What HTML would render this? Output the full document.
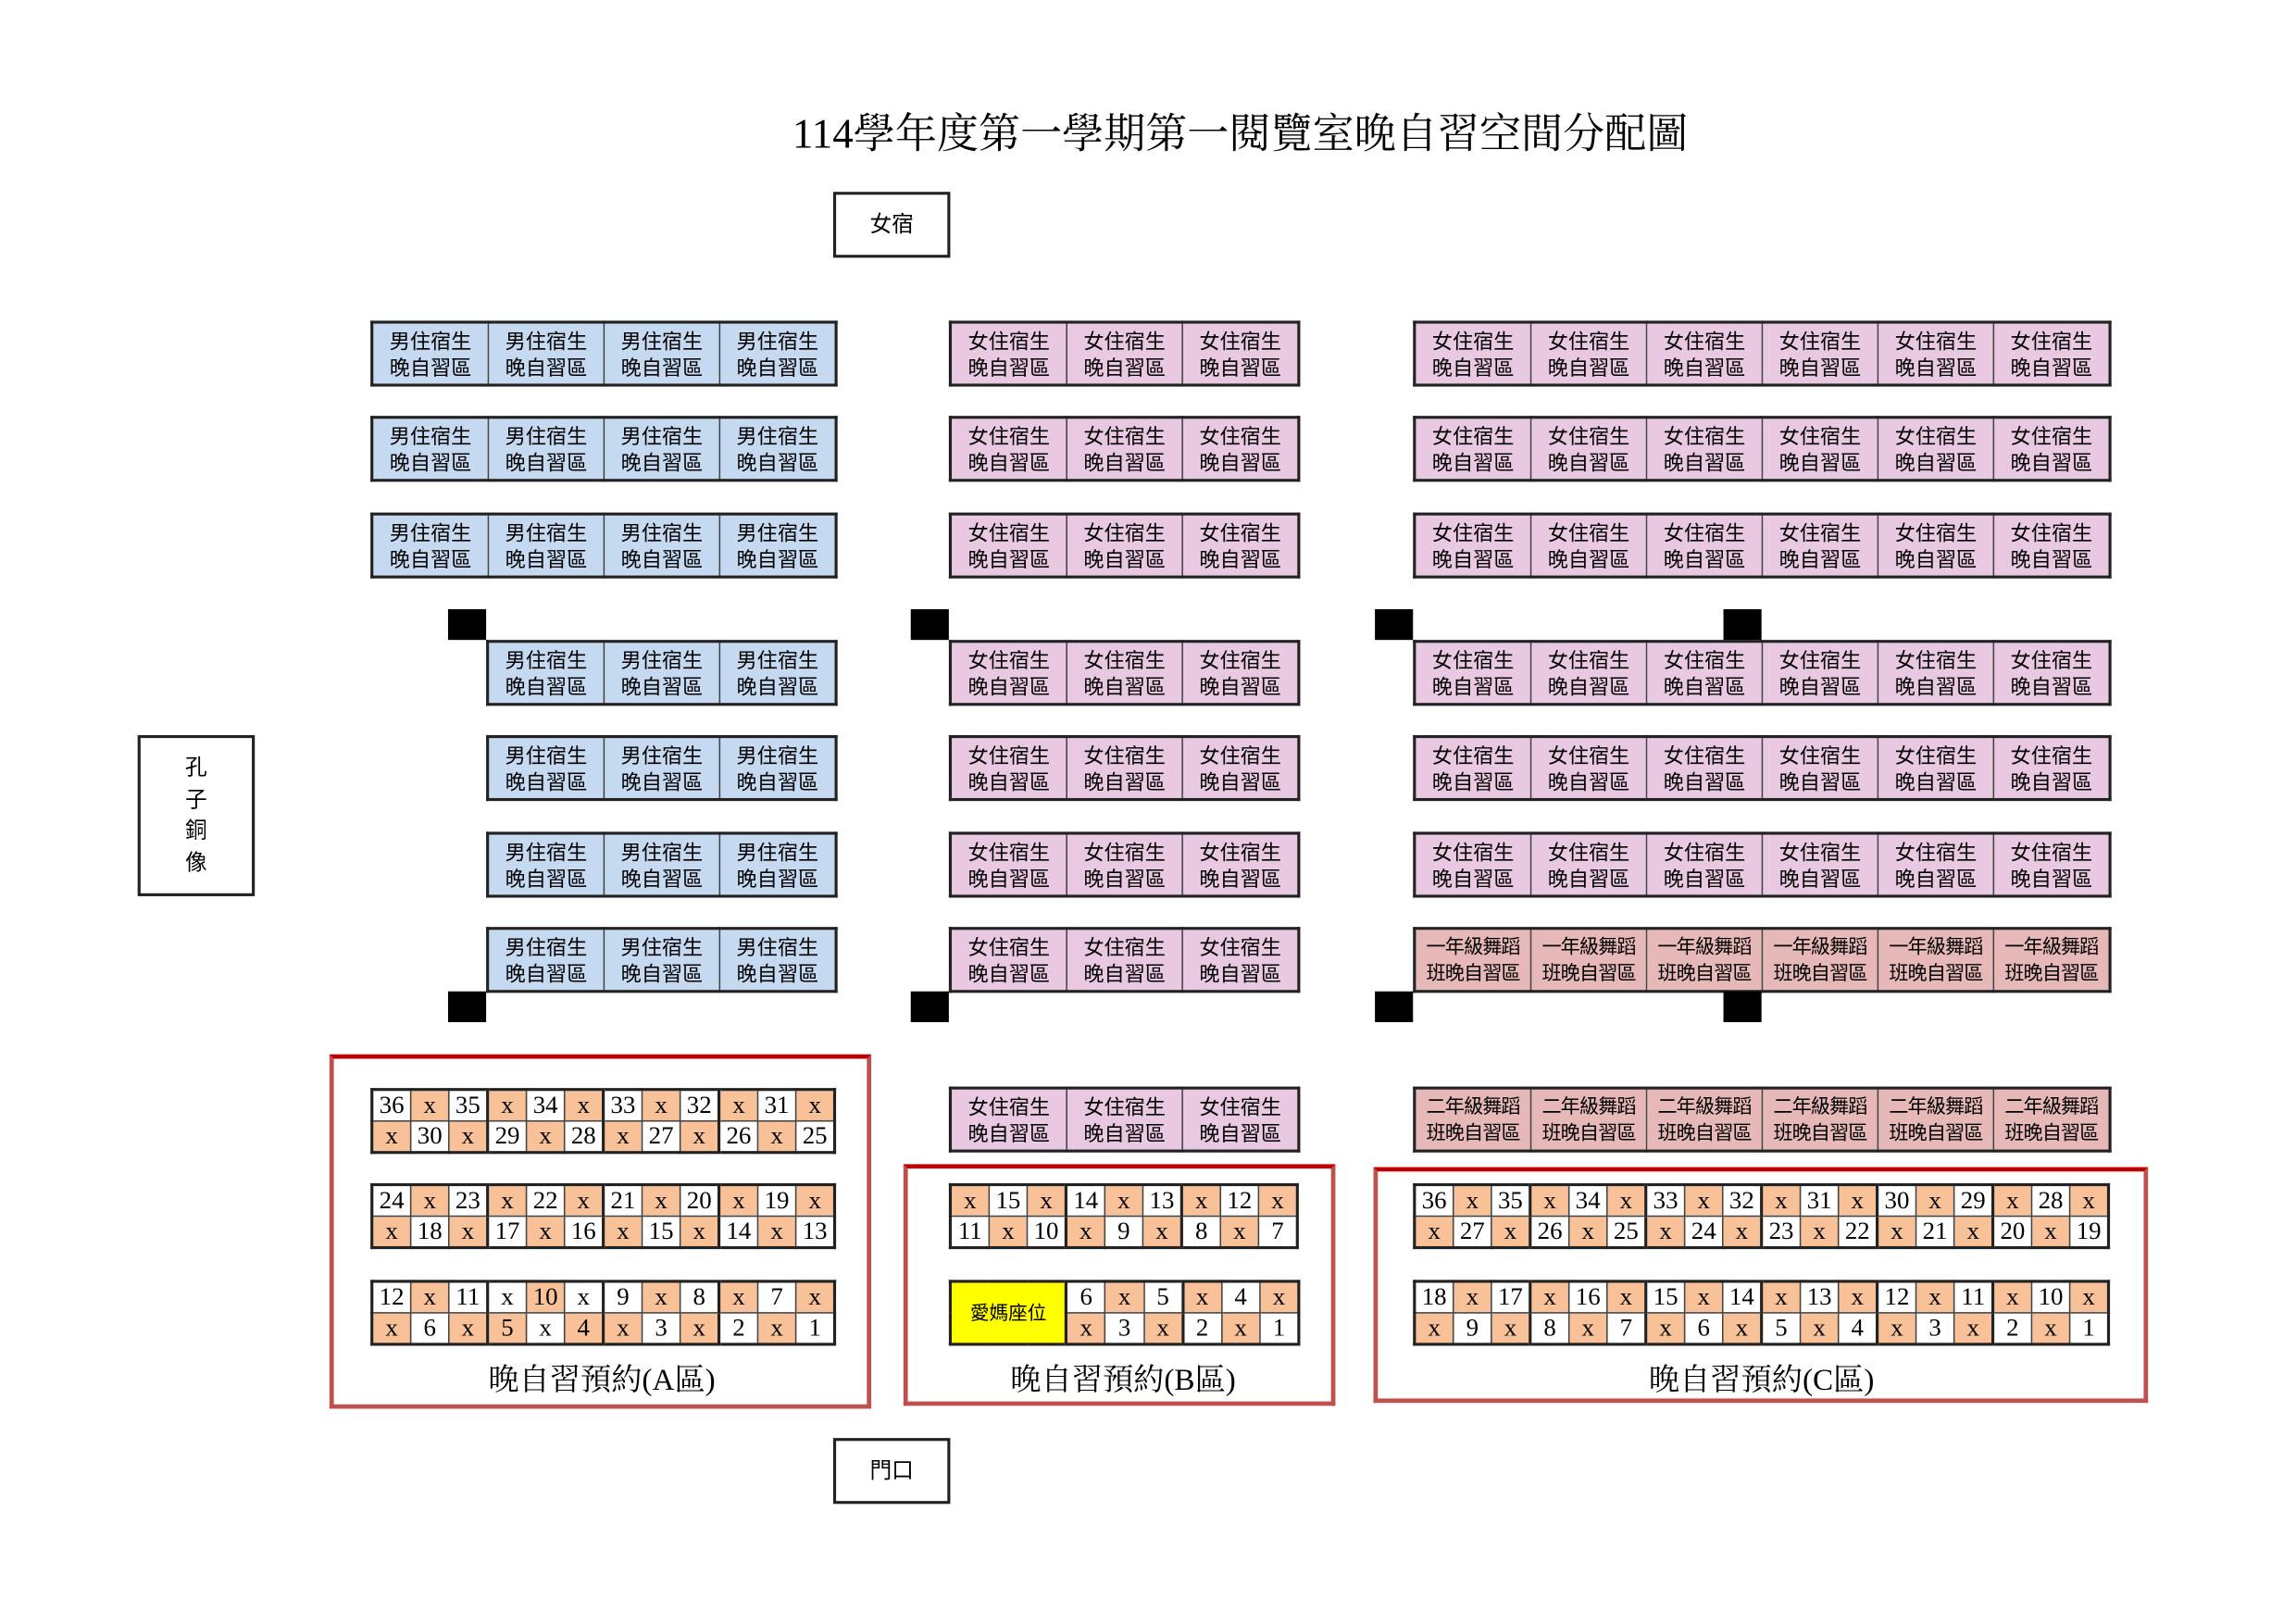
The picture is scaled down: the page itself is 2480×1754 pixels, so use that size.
<!DOCTYPE html>
<html><head><meta charset="utf-8">
<style>
html,body{margin:0;padding:0;background:#fff;width:2480px;height:1754px;overflow:hidden}
#s{position:absolute;left:0;top:0;width:1568px;height:1109px;transform:scale(1.5816);transform-origin:0 0;font-family:"Liberation Sans","Noto Sans CJK TC",sans-serif;color:#000}
.a{position:absolute}
.t{position:absolute;border-collapse:collapse;table-layout:fixed;border:2px solid #222}
.t td{border:1px solid #444;padding:0;text-align:center;vertical-align:middle;overflow:hidden;white-space:nowrap}
.x td{width:78px;height:41px;font-size:14px;line-height:18px}
.b td{background:#c5d9f1}
.p td{background:#e9c8e1}
.d td{background:#e6b8b7;font-size:13.4px;letter-spacing:-0.6px}
.q td{width:25px;height:20px;font-family:"Liberation Serif",serif;font-size:17px;line-height:20px;background:#fff}
.q td.o{background:#f8c197}
.q td.g{border-right:2px solid #222}
.box{position:absolute;border:2px solid #222;background:#fff;text-align:center;font-size:15px}
.red{position:absolute;border:3px solid #c0504d;border-top-color:#c00000}
.lab{position:absolute;font-family:"Liberation Serif","Noto Serif CJK SC",serif;font-size:21px;text-align:center;width:300px}
.k{position:absolute;background:#000;width:26px;height:21px}
</style></head><body><div id="s">
<div class="a" style="left:397px;top:73px;width:900px;text-align:center;font-family:'Liberation Serif','Noto Serif CJK SC',serif;font-size:28.5px;line-height:40px">114學年度第一學期第一閱覽室晚自習空間分配圖</div>
<div class="box" style="left:569px;top:131px;width:76px;height:41px;line-height:41px">女宿</div>
<div class="box" style="left:569px;top:982px;width:76px;height:41px;line-height:41px">門口</div>
<div class="box" style="left:94px;top:502px;width:76px;height:106px;font-size:15px;line-height:21.5px"><div style="padding-top:10px">孔<br>子<br>銅<br>像</div></div>

<table class="t x b" style="left:253px;top:219px"><tr><td>男住宿生<br>晚自習區</td><td>男住宿生<br>晚自習區</td><td>男住宿生<br>晚自習區</td><td>男住宿生<br>晚自習區</td></tr></table>
<table class="t x b" style="left:253px;top:284px"><tr><td>男住宿生<br>晚自習區</td><td>男住宿生<br>晚自習區</td><td>男住宿生<br>晚自習區</td><td>男住宿生<br>晚自習區</td></tr></table>
<table class="t x b" style="left:253px;top:350px"><tr><td>男住宿生<br>晚自習區</td><td>男住宿生<br>晚自習區</td><td>男住宿生<br>晚自習區</td><td>男住宿生<br>晚自習區</td></tr></table>
<table class="t x b" style="left:332px;top:437px"><tr><td>男住宿生<br>晚自習區</td><td>男住宿生<br>晚自習區</td><td>男住宿生<br>晚自習區</td></tr></table>
<table class="t x b" style="left:332px;top:502px"><tr><td>男住宿生<br>晚自習區</td><td>男住宿生<br>晚自習區</td><td>男住宿生<br>晚自習區</td></tr></table>
<table class="t x b" style="left:332px;top:568px"><tr><td>男住宿生<br>晚自習區</td><td>男住宿生<br>晚自習區</td><td>男住宿生<br>晚自習區</td></tr></table>
<table class="t x b" style="left:332px;top:633px"><tr><td>男住宿生<br>晚自習區</td><td>男住宿生<br>晚自習區</td><td>男住宿生<br>晚自習區</td></tr></table>

<table class="t x p" style="left:648px;top:219px"><tr><td>女住宿生<br>晚自習區</td><td>女住宿生<br>晚自習區</td><td>女住宿生<br>晚自習區</td></tr></table>
<table class="t x p" style="left:648px;top:284px"><tr><td>女住宿生<br>晚自習區</td><td>女住宿生<br>晚自習區</td><td>女住宿生<br>晚自習區</td></tr></table>
<table class="t x p" style="left:648px;top:350px"><tr><td>女住宿生<br>晚自習區</td><td>女住宿生<br>晚自習區</td><td>女住宿生<br>晚自習區</td></tr></table>
<table class="t x p" style="left:648px;top:437px"><tr><td>女住宿生<br>晚自習區</td><td>女住宿生<br>晚自習區</td><td>女住宿生<br>晚自習區</td></tr></table>
<table class="t x p" style="left:648px;top:502px"><tr><td>女住宿生<br>晚自習區</td><td>女住宿生<br>晚自習區</td><td>女住宿生<br>晚自習區</td></tr></table>
<table class="t x p" style="left:648px;top:568px"><tr><td>女住宿生<br>晚自習區</td><td>女住宿生<br>晚自習區</td><td>女住宿生<br>晚自習區</td></tr></table>
<table class="t x p" style="left:648px;top:633px"><tr><td>女住宿生<br>晚自習區</td><td>女住宿生<br>晚自習區</td><td>女住宿生<br>晚自習區</td></tr></table>
<table class="t x p" style="left:648px;top:742px"><tr><td>女住宿生<br>晚自習區</td><td>女住宿生<br>晚自習區</td><td>女住宿生<br>晚自習區</td></tr></table>

<table class="t x p" style="left:965px;top:219px"><tr><td>女住宿生<br>晚自習區</td><td>女住宿生<br>晚自習區</td><td>女住宿生<br>晚自習區</td><td>女住宿生<br>晚自習區</td><td>女住宿生<br>晚自習區</td><td>女住宿生<br>晚自習區</td></tr></table>
<table class="t x p" style="left:965px;top:284px"><tr><td>女住宿生<br>晚自習區</td><td>女住宿生<br>晚自習區</td><td>女住宿生<br>晚自習區</td><td>女住宿生<br>晚自習區</td><td>女住宿生<br>晚自習區</td><td>女住宿生<br>晚自習區</td></tr></table>
<table class="t x p" style="left:965px;top:350px"><tr><td>女住宿生<br>晚自習區</td><td>女住宿生<br>晚自習區</td><td>女住宿生<br>晚自習區</td><td>女住宿生<br>晚自習區</td><td>女住宿生<br>晚自習區</td><td>女住宿生<br>晚自習區</td></tr></table>
<table class="t x p" style="left:965px;top:437px"><tr><td>女住宿生<br>晚自習區</td><td>女住宿生<br>晚自習區</td><td>女住宿生<br>晚自習區</td><td>女住宿生<br>晚自習區</td><td>女住宿生<br>晚自習區</td><td>女住宿生<br>晚自習區</td></tr></table>
<table class="t x p" style="left:965px;top:502px"><tr><td>女住宿生<br>晚自習區</td><td>女住宿生<br>晚自習區</td><td>女住宿生<br>晚自習區</td><td>女住宿生<br>晚自習區</td><td>女住宿生<br>晚自習區</td><td>女住宿生<br>晚自習區</td></tr></table>
<table class="t x p" style="left:965px;top:568px"><tr><td>女住宿生<br>晚自習區</td><td>女住宿生<br>晚自習區</td><td>女住宿生<br>晚自習區</td><td>女住宿生<br>晚自習區</td><td>女住宿生<br>晚自習區</td><td>女住宿生<br>晚自習區</td></tr></table>
<table class="t x d" style="left:965px;top:633px"><tr><td>一年級舞蹈<br>班晚自習區</td><td>一年級舞蹈<br>班晚自習區</td><td>一年級舞蹈<br>班晚自習區</td><td>一年級舞蹈<br>班晚自習區</td><td>一年級舞蹈<br>班晚自習區</td><td>一年級舞蹈<br>班晚自習區</td></tr></table>
<table class="t x d" style="left:965px;top:742px"><tr><td>二年級舞蹈<br>班晚自習區</td><td>二年級舞蹈<br>班晚自習區</td><td>二年級舞蹈<br>班晚自習區</td><td>二年級舞蹈<br>班晚自習區</td><td>二年級舞蹈<br>班晚自習區</td><td>二年級舞蹈<br>班晚自習區</td></tr></table>

<div class="k" style="left:306px;top:416px"></div>
<div class="k" style="left:306px;top:677px"></div>
<div class="k" style="left:622px;top:416px"></div>
<div class="k" style="left:622px;top:677px"></div>
<div class="k" style="left:939px;top:416px"></div>
<div class="k" style="left:939px;top:677px"></div>
<div class="k" style="left:1177px;top:416px"></div>
<div class="k" style="left:1177px;top:677px"></div>

<div class="red" style="left:225px;top:720px;width:364px;height:236px"></div>
<div class="red" style="left:617px;top:795px;width:289px;height:159px"></div>
<div class="red" style="left:938px;top:797px;width:523px;height:155px"></div>

<table class="t q" style="left:253px;top:743px"><tr><td>36</td><td class="o">x</td><td class="g">35</td><td class="o">x</td><td>34</td><td class="o g">x</td><td>33</td><td class="o">x</td><td class="g">32</td><td class="o">x</td><td>31</td><td class="o">x</td></tr>
<tr><td class="o">x</td><td>30</td><td class="o g">x</td><td>29</td><td class="o">x</td><td class="g">28</td><td class="o">x</td><td>27</td><td class="o g">x</td><td>26</td><td class="o">x</td><td>25</td></tr></table>
<table class="t q" style="left:253px;top:808px"><tr><td>24</td><td class="o">x</td><td class="g">23</td><td class="o">x</td><td>22</td><td class="o g">x</td><td>21</td><td class="o">x</td><td class="g">20</td><td class="o">x</td><td>19</td><td class="o">x</td></tr>
<tr><td class="o">x</td><td>18</td><td class="o g">x</td><td>17</td><td class="o">x</td><td class="g">16</td><td class="o">x</td><td>15</td><td class="o g">x</td><td>14</td><td class="o">x</td><td>13</td></tr></table>
<table class="t q" style="left:253px;top:874px"><tr><td>12</td><td class="o">x</td><td class="g">11</td><td>x</td><td class="o">10</td><td class="g">x</td><td>9</td><td class="o">x</td><td class="g">8</td><td class="o">x</td><td>7</td><td class="o">x</td></tr>
<tr><td class="o">x</td><td>6</td><td class="o g">x</td><td class="o">5</td><td>x</td><td class="o g">4</td><td class="o">x</td><td>3</td><td class="o g">x</td><td>2</td><td class="o">x</td><td>1</td></tr></table>
<div class="lab" style="left:261px;top:926px">晚自習預約(A區)</div>

<table class="t q" style="left:648px;top:808px"><tr><td class="o">x</td><td>15</td><td class="o g">x</td><td>14</td><td class="o">x</td><td class="g">13</td><td class="o">x</td><td>12</td><td class="o">x</td></tr>
<tr><td>11</td><td class="o">x</td><td class="g">10</td><td class="o">x</td><td>9</td><td class="o g">x</td><td>8</td><td class="o">x</td><td>7</td></tr></table>
<table class="t q" style="left:648px;top:874px;width:240px"><colgroup><col style="width:26px"><col style="width:26px"><col style="width:26px"><col style="width:26px"><col style="width:26px"><col style="width:26px"><col style="width:26px"><col style="width:26px"><col style="width:26px"></colgroup><tr><td colspan="3" rowspan="2" class="g" style="background:#ffff00;font-family:'Liberation Sans','Noto Sans CJK TC',sans-serif;font-size:13px">愛媽座位</td><td>6</td><td class="o">x</td><td class="g">5</td><td class="o">x</td><td>4</td><td class="o">x</td></tr>
<tr><td class="o">x</td><td>3</td><td class="o g">x</td><td>2</td><td class="o">x</td><td>1</td></tr></table>
<div class="lab" style="left:617px;top:926px">晚自習預約(B區)</div>

<table class="t q" style="left:965px;top:808px"><tr><td>36</td><td class="o">x</td><td class="g">35</td><td class="o">x</td><td>34</td><td class="o g">x</td><td>33</td><td class="o">x</td><td class="g">32</td><td class="o">x</td><td>31</td><td class="o g">x</td><td>30</td><td class="o">x</td><td class="g">29</td><td class="o">x</td><td>28</td><td class="o">x</td></tr>
<tr><td class="o">x</td><td>27</td><td class="o g">x</td><td>26</td><td class="o">x</td><td class="g">25</td><td class="o">x</td><td>24</td><td class="o g">x</td><td>23</td><td class="o">x</td><td class="g">22</td><td class="o">x</td><td>21</td><td class="o g">x</td><td>20</td><td class="o">x</td><td>19</td></tr></table>
<table class="t q" style="left:965px;top:874px"><tr><td>18</td><td class="o">x</td><td class="g">17</td><td class="o">x</td><td>16</td><td class="o g">x</td><td>15</td><td class="o">x</td><td class="g">14</td><td class="o">x</td><td>13</td><td class="o g">x</td><td>12</td><td class="o">x</td><td class="g">11</td><td class="o">x</td><td>10</td><td class="o">x</td></tr>
<tr><td class="o">x</td><td>9</td><td class="o g">x</td><td>8</td><td class="o">x</td><td class="g">7</td><td class="o">x</td><td>6</td><td class="o g">x</td><td>5</td><td class="o">x</td><td class="g">4</td><td class="o">x</td><td>3</td><td class="o g">x</td><td>2</td><td class="o">x</td><td>1</td></tr></table>
<div class="lab" style="left:1053px;top:926px">晚自習預約(C區)</div>
</div></body></html>
